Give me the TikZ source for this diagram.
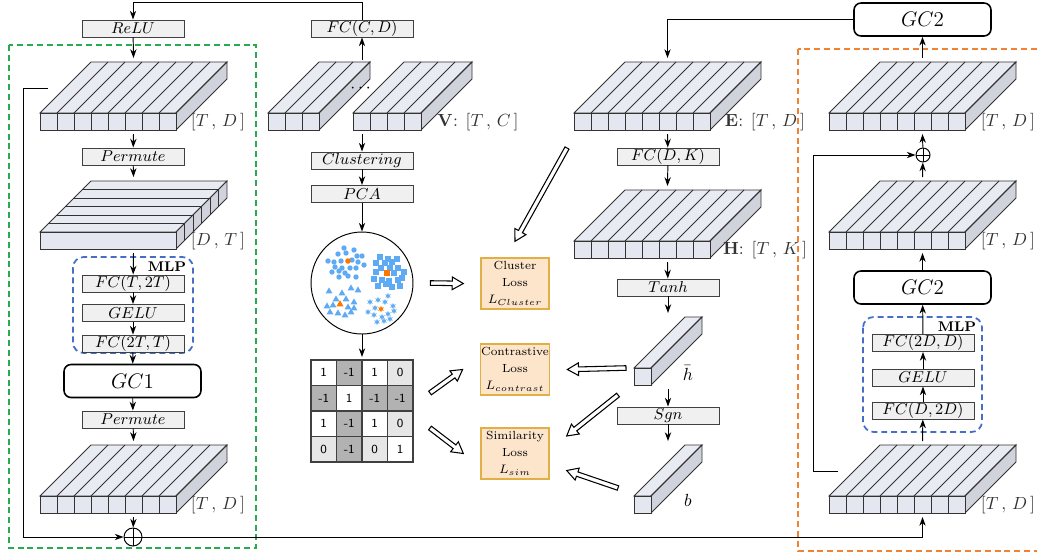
\documentclass[tikz,border=0pt]{standalone}
\usepackage{amsmath,amssymb,xcolor}
\usetikzlibrary{arrows.meta,calc}
\definecolor{slabfront}{RGB}{228,231,240}
\definecolor{slabtop}{RGB}{233,235,243}
\definecolor{slabside}{RGB}{208,211,220}
\definecolor{gframe}{RGB}{40,170,80}
\definecolor{oframe}{RGB}{240,130,50}
\definecolor{bframe}{RGB}{70,110,200}
\definecolor{lossfill}{RGB}{253,229,204}
\definecolor{lossdraw}{RGB}{225,175,70}
\definecolor{ptblue}{RGB}{95,170,245}
\definecolor{ptorange}{RGB}{250,120,0}
\definecolor{cdark}{RGB}{178,178,178}
\definecolor{clight}{RGB}{230,230,230}

\tikzset{
  opbox/.style={draw=black!75,fill=black!6,minimum width=2.04cm,minimum height=0.34cm,inner sep=0pt,font=\fontsize{9.5}{11}\selectfont},
  gcbox/.style={draw,line width=0.9pt,rounded corners=4pt,minimum width=2.74cm,minimum height=0.66cm,inner sep=0pt,font=\large},
  lossbox/.style={draw=lossdraw,fill=lossfill,line width=0.8pt,minimum width=1.36cm,minimum height=1.02cm,inner sep=0.5pt,align=center,font=\fontsize{6.7}{9.6}\selectfont},
  dimlab/.style={text=black!80},
  sumnode/.style={draw,circle,minimum size=#1,inner sep=0pt,path picture={\draw (path picture bounding box.north)--(path picture bounding box.south) (path picture bounding box.west)--(path picture bounding box.east);}},
  hollow/.style={fill=white,line width=0.6pt,line join=miter,to path={
    let \p1=($(\tikztotarget)-(\tikztostart)$), \n1={atan2(\y1,\x1)}, \n2={veclen(\x1,\y1)} in
    ($(\tikztostart)+(\n1+90:1.3pt)$) -- ($(\tikztostart)+(\n1:\n2-6.3pt)+(\n1+90:1.3pt)$)
    -- ($(\tikztostart)+(\n1:\n2-6.3pt)+(\n1+90:3.6pt)$) -- (\tikztotarget)
    -- ($(\tikztostart)+(\n1:\n2-6.3pt)+(\n1-90:3.6pt)$) -- ($(\tikztostart)+(\n1:\n2-6.3pt)+(\n1-90:1.3pt)$)
    -- ($(\tikztostart)+(\n1-90:1.3pt)$) -- cycle}},
  slabline/.style={draw=black!80,line width=0.5pt},
  frame/.style={dashed,line width=1pt,dash pattern=on 3.4pt off 2.2pt},
}

% #1 name, #2 x, #3 y of the front lower left corner, #4 number of cells
\newcommand{\slab}[4]{%
  \pgfmathsetmacro{\slabw}{17*#4}
  \draw[slabline,fill=slabtop] (#2,#3-17) -- ++(51,-51) -- ++(\slabw,0) -- ++(-51,51) -- cycle;
  \draw[slabline,fill=slabside] (#2+\slabw,#3) -- ++(0,-17) -- ++(51,-51) -- ++(0,17) -- cycle;
  \foreach \k in {1,...,#4}{
    \draw[slabline,fill=slabfront] ({#2+17*(\k-1)},#3) rectangle ++(17,-17);
    \draw[slabline] ({#2+17*\k},#3-17) -- ++(51,-51);
  }
  \coordinate (#1-n) at ({#2+(\slabw+51)/2},#3-72);
  \coordinate (#1-s) at ({#2+(\slabw+51)/2},#3+4);
}
% permuted slab, layers along the depth
\newcommand{\pslab}[3]{%
  \draw[slabline,fill=slabtop] (#2,#3-17) -- ++(51,-51) -- ++(136,0) -- ++(-51,51) -- cycle;
  \draw[slabline,fill=slabside] (#2+136,#3) -- ++(0,-17) -- ++(51,-51) -- ++(0,17) -- cycle;
  \draw[slabline,fill=slabfront] (#2,#3) rectangle ++(136,-17);
  \foreach \k in {1,...,5}{
    \draw[slabline] ({#2+8.5*\k},{#3-17-8.5*\k}) -- ++(136,0) -- ++(0,17);
  }
  \coordinate (#1-n) at (#2+93.5,#3-72);
  \coordinate (#1-s) at (#2+93.5,#3+4);
}

\begin{document}
\begin{tikzpicture}[x=0.02cm,y=-0.02cm,>={Stealth[length=5pt,width=3.6pt]},line width=0.55pt]
\useasboundingbox (0,0) rectangle (1037,555);
% frames
\draw[frame,gframe] (9,45) rectangle (256,548);
\draw[frame,oframe] (798,49) rectangle (1045,551);

% left branch
\node[opbox] (relu) at (133,28.5) {$ReLU$};
\slab{s1}{40}{130}{8}
\node[dimlab] (s1lab) at (218,122) {$[T\,,\,D\,]$};
\node[opbox] (perm1) at (133,156.5) {$Permute$};
\pslab{s2}{40}{249}
\node[dimlab] (s2lab) at (218,241) {$[D\,,\,T\,]$};
\draw[frame,bframe,rounded corners=6pt] (73,257) rectangle (193,353);
\node[font=\footnotesize\bfseries] (mlp1) at (167,267) {MLP};
\node[opbox] (fc1) at (133,283.5) {$FC(T,2T)$};
\node[opbox] (gelu1) at (133,313) {$GELU$};
\node[opbox] (fc2) at (133,343.5) {$FC(2T,T)$};
\node[gcbox] (gc1) at (132.5,381) {$GC1$};
\node[opbox] (perm2) at (133,419.5) {$Permute$};
\slab{s3}{40}{513}{8}
\node[dimlab] (s3lab) at (218,505) {$[T\,,\,D\,]$};
\node[sumnode=0.36cm] (add1) at (133,537) {};

% V branch
\node[opbox] (fccd) at (362,28.5) {$FC(C,D)$};
\slab{va}{268}{130}{3}
\node (vdots) at (362,89) {$\cdots$};
\slab{vb}{353}{130}{4}
\node[dimlab] (vlab) at (478,122) {$\mathbf{V}$: $[T\,,\,C\,]$};
\coordinate (vup) at (362,60);
\coordinate (vdown) at (362,134);
\node[opbox] (clus) at (362,160.5) {$Clustering$};
\node[opbox] (pca) at (362,194) {$PCA$};
\node[draw,circle,minimum size=2.04cm,inner sep=0pt] (scatter) at (362,283) {};
\foreach \x/\y in {344/248,354/250,338/254,346/253,357/256,362/256,328/261,334/262,341/261,352/260,358/262,364/265,335/267,342/268,350/268,356/268,332/272,339/271,345/273,339/277,348/276,356/277}
  \fill[ptblue] (\x,\y) circle (2.7);
\foreach \x/\y in {380/257,388/259,397/259,376/263,385/263,392/262,381/268,390/268,398/268,404/272,376/272,394/273,402/278,374/279,382/280,389/281,398/280,378/286,386/284,392/287,400/286}
  \fill[ptblue] (\x,\y) +(-2.6,-2.6) rectangle +(2.6,2.6);
\foreach \x/\y in {329/291,342/293,351/288,358/290,336/299,346/299,354/302,327/306,333/305,348/307,330/312,338/313,345/315,351/312,354/308}
  \fill[ptblue] (\x,\y) +(0,-3.6) -- +(3.4,2.3) -- +(-3.4,2.3) -- cycle;
\foreach \x/\y in {388/296,378/300,385/302,370/302,393/306,375/308,394/311,368/312,388/314,374/315,382/317,390/319,377/322,384/321}
  \fill[ptblue] (\x,\y) +(90:3.2) -- +(120:1.5) -- +(150:3.2) -- +(180:1.5) -- +(210:3.2) -- +(240:1.5) -- +(270:3.2) -- +(300:1.5) -- +(330:3.2) -- +(0:1.5) -- +(30:3.2) -- +(60:1.5) -- cycle;
\fill[ptorange] (348,261) circle (2.8);
\fill[ptorange] (387,273) +(-2.8,-2.8) rectangle +(2.8,2.8);
\fill[ptorange] (340,304) +(0,-3.8) -- +(3.6,2.4) -- +(-3.6,2.4) -- cycle;
\fill[ptorange] (381,309) +(90:3.4) -- +(120:1.6) -- +(150:3.4) -- +(180:1.6) -- +(210:3.4) -- +(240:1.6) -- +(270:3.4) -- +(300:1.6) -- +(330:3.4) -- +(0:1.6) -- +(30:3.4) -- +(60:1.6) -- cycle;
\coordinate (matn) at (362,357);
\foreach \v/\c [count=\i from 0] in {1/white,-1/cdark,1/white,0/clight,-1/cdark,1/white,-1/cdark,-1/cdark,1/white,-1/cdark,1/white,0/clight,0/clight,-1/cdark,0/clight,1/white}{
  \pgfmathtruncatemacro{\cc}{mod(\i,4)}
  \pgfmathtruncatemacro{\rr}{div(\i,4)}
  \node[draw=black!75,fill=\c,line width=0.8pt,minimum size=0.51cm,inner sep=0pt,font=\sffamily\scriptsize] (m\i) at ({323.75+25.5*\cc},{372.75+25.5*\rr}) {\v};
}
\coordinate (mout1) at (430,393);
\coordinate (mout2) at (430,428);

% losses
\node[lossbox] (lclu) at (515,283.5) {Cluster\\Loss\\$L_{Cluster}$};
\node[lossbox] (lcon) at (515,369.5) {Contrastive\\Loss\\$L_{contrast}$};
\node[lossbox] (lsim) at (515,453.5) {Similarity\\Loss\\$L_{sim}$};

% E branch
\slab{e}{574}{130}{8}
\node[dimlab] (elab) at (765,122) {$\mathbf{E}$: $[T\,,\,D\,]$};
\node[opbox] (fcdk) at (668,156.5) {$FC(D,K)$};
\slab{h}{574}{258}{8}
\node[dimlab] (hlab) at (765,250) {$\mathbf{H}$: $[T\,,\,K\,]$};
\node[opbox] (tanh) at (668,287.5) {$Tanh$};
\slab{hb}{634}{385}{1}
\node (hbarlab) at (688,373) {$\bar{h}$};
\node[opbox] (sgn) at (668,415.5) {$Sgn$};
\slab{bv}{634}{513}{1}
\node (blab) at (688,500) {$b$};
\coordinate (eout) at (567,148);
\coordinate (hout1) at (626,368);
\coordinate (hout2) at (618,395);
\coordinate (bout) at (618,488);

% right branch
\node[gcbox] (gc2a) at (922.5,19.5) {$GC2$};
\slab{r1}{829}{130}{8}
\node[dimlab] (r1lab) at (1008,122) {$[T\,,\,D\,]$};
\node[sumnode=0.28cm] (add2) at (923,155) {};
\slab{r2}{829}{249}{8}
\node[dimlab] (r2lab) at (1008,241) {$[T\,,\,D\,]$};
\node[gcbox] (gc2b) at (922.5,287.5) {$GC2$};
\draw[frame,bframe,rounded corners=6pt] (863,317) rectangle (982,432);
\node[font=\footnotesize\bfseries] (mlp2) at (957,327) {MLP};
\node[opbox] (fc3) at (923,343) {$FC(2D,D)$};
\node[opbox] (gelu2) at (923,377.5) {$GELU$};
\node[opbox] (fc4) at (923,410.5) {$FC(D,2D)$};
\slab{r3}{829}{513}{8}
\node[dimlab] (r3lab) at (1008,505) {$[T\,,\,D\,]$};
\coordinate (skip1) at (48,88);
\coordinate (skip2) at (838,471);

% connectors
\draw[->] (vup) -- (fccd);
\draw[->] (fccd.north) -- ++(0,-17) -| (relu.north);
\draw[->] (relu) -- (s1-n);
\draw[->] (s1-s) -- (perm1);
\draw[->] (perm1) -- (s2-n);
\draw[->] (s2-s) -- (fc1);
\draw[->] (fc1) -- (gelu1);
\draw[->] (gelu1) -- (fc2);
\draw[->] (fc2) -- (gc1);
\draw[->] (gc1) -- (perm2);
\draw[->] (perm2) -- (s3-n);
\draw[->] (s3-s) -- (add1);
\draw[->] (skip1) -- ++(-25,0) |- (add1.west);
\draw[->] (add1.east) -| (r3-s);
\draw[->] (vdown) -- (clus);
\draw[->] (clus) -- (pca);
\draw[->] (pca) -- (scatter);
\draw[->] (scatter) -- (matn);
\draw[->] (gc2a.west) -| (e-n);
\draw[->] (e-s) -- (fcdk);
\draw[->] (fcdk) -- (h-n);
\draw[->] (h-s) -- (tanh);
\draw[->] (tanh) -- (hb-n);
\draw[->] (hb-s) -- (sgn);
\draw[->] (sgn) -- (bv-n);
\draw[->] (r1-n) -- (gc2a);
\draw[->] (add2) -- (r1-s);
\draw[->] (r2-n) -- (add2);
\draw[->] (gc2b) -- (r2-s);
\draw[->] (fc3) -- (gc2b);
\draw[->] (gelu2) -- (fc3);
\draw[->] (fc4) -- (gelu2);
\draw[->] (r3-n) -- (fc4);
\draw[->] (skip2) -- ++(-25,0) |- (add2.west);
% hollow arrows to the losses
\draw[hollow] ([xshift=0.34cm]scatter.east) to ([xshift=-0.34cm]lclu.west);
\draw[hollow] (mout1) to ([xshift=-0.34cm]lcon.west);
\draw[hollow] (mout2) to ([xshift=-0.34cm]lsim.west);
\draw[hollow] (eout) to ([yshift=0.32cm]lclu.north);
\draw[hollow] (hout1) to ([xshift=0.34cm]lcon.east);
\draw[hollow] (hout2) to ([xshift=0.34cm,yshift=0.35cm]lsim.east);
\draw[hollow] (bout) to ([xshift=0.34cm,yshift=-0.34cm]lsim.east);
\end{tikzpicture}
\end{document}
